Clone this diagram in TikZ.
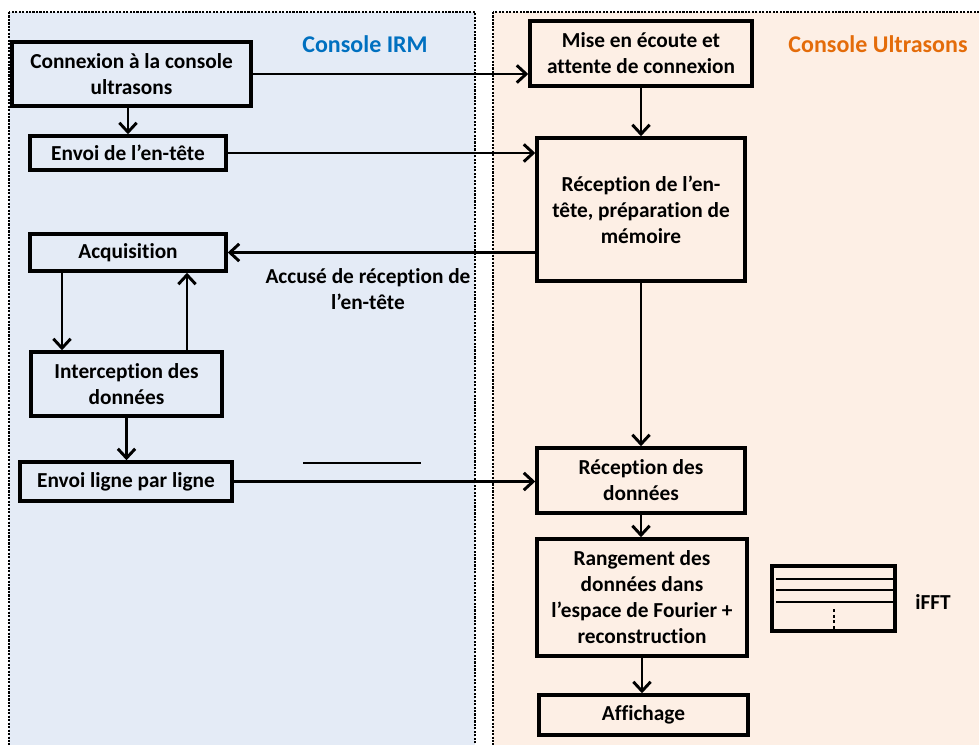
\documentclass[tikz,border=0pt]{standalone}
\usepackage{fontspec}
\setmainfont[Ligatures={NoCommon}]{Carlito}
\usetikzlibrary{arrows.meta}
\definecolor{irmbg}{RGB}{228,235,246}
\definecolor{usbg}{RGB}{253,239,229}
\definecolor{irmblue}{RGB}{0,112,192}
\definecolor{usorange}{RGB}{228,108,10}
\begin{document}
\begin{tikzpicture}[x=0.75pt,y=-0.75pt,
  box/.style={draw,line width=2.6pt,align=center,inner sep=0,font=\bfseries\fontsize{16}{19.5}\selectfont},
  arr/.style={line width=2.2pt,-{Straight Barb[length=7pt,width=13pt,line width=2.2pt]}},
  panel/.style={densely dotted,line width=1.6pt},
  title/.style={font=\bfseries\fontsize{18}{22}\selectfont}]
\useasboundingbox (0,0) rectangle (979,745);
\begin{scope}
\clip (0,0) rectangle (979,745);
\draw[panel,fill=irmbg](9,12) rectangle (475,760);
\draw[panel,fill=usbg](493,12) rectangle (990,760);
\end{scope}
\node[title,text=irmblue](tirm) at (365,44){Console IRM};
\node[title,text=usorange](tus) at (878,44){Console Ultrasons};
% console IRM
\node[box,fill=irmbg,minimum width=179.3pt,minimum height=48pt](conn) at (131.5,74){Connexion à la console\\ultrasons};
\node[box,fill=irmbg,minimum width=147pt,minimum height=25.5pt](entete) at (128,153){Envoi de l’en-tête};
\node[box,fill=irmbg,minimum width=147pt,minimum height=27.8pt](acq) at (128,252.5){Acquisition};
\node[box,fill=irmbg,minimum width=143.3pt,minimum height=48pt](interc) at (126.5,384){Interception des\\données};
\node[box,fill=irmbg,minimum width=159pt,minimum height=29.3pt](envoi) at (126,481.5){Envoi ligne par ligne};
% console ultrasons
\node[box,fill=usbg,minimum width=166.5pt,minimum height=48.8pt](ecoute) at (641,53.5){Mise en écoute et\\attente de connexion};
\node[box,fill=usbg,minimum width=156pt,minimum height=107.3pt](recep) at (641,209.5){Réception de l’en-\\tête, préparation de\\mémoire};
\node[box,fill=usbg,minimum width=156pt,minimum height=48.8pt](recdon) at (641,480.5){Réception des\\données};
\node[box,fill=usbg,minimum width=157.5pt,minimum height=87.8pt](rang) at (642,597.5){Rangement des\\données dans\\l’espace de Fourier +\\reconstruction};
\node[box,fill=usbg,minimum width=156.8pt,minimum height=30pt](aff) at (643.5,715){Affichage};
% connexions
\coordinate (xa) at (62,0);\coordinate (xb) at (187,0);
\draw[arr](conn.east)--(ecoute.west|-conn.east);
\draw[arr](entete.north|-conn.south)--(entete.north);
\draw[arr](entete.east)--(recep.west|-entete.east);
\draw[arr](ecoute.south)--(recep.north);
\draw[arr](recep.west|-acq.east)--(acq.east);
\node[font=\bfseries\fontsize{16}{19}\selectfont,align=center](accuse) at (368,289){Accusé de réception de\\l’en-tête};
\draw[arr](xa|-acq.south)--(xa|-interc.north);
\draw[arr](xb|-interc.north)--(xb|-acq.south);
\draw[arr](interc.south)--(interc.south|-envoi.north);
\draw[arr](envoi.east)--(recdon.west|-envoi.east);
\draw[arr](recep.south)--(recdon.north);
\draw[arr](recdon.south)--(recdon.south|-rang.north);
\draw[arr](rang.south)--(rang.south|-aff.north);
\draw[line width=1.2pt](303,463)--(421,463);
% iFFT
\draw[line width=2.4pt](772,566) rectangle (895,631);
\foreach \y in {579,590,602}\draw[line width=1.8pt](776,\y)--(895,\y);
\draw[line width=2.2pt,dotted](834,609)--(834,631);
\node[font=\bfseries\fontsize{16}{19.5}\selectfont](ifft) at (933,602){iFFT};
\end{tikzpicture}
\end{document}
